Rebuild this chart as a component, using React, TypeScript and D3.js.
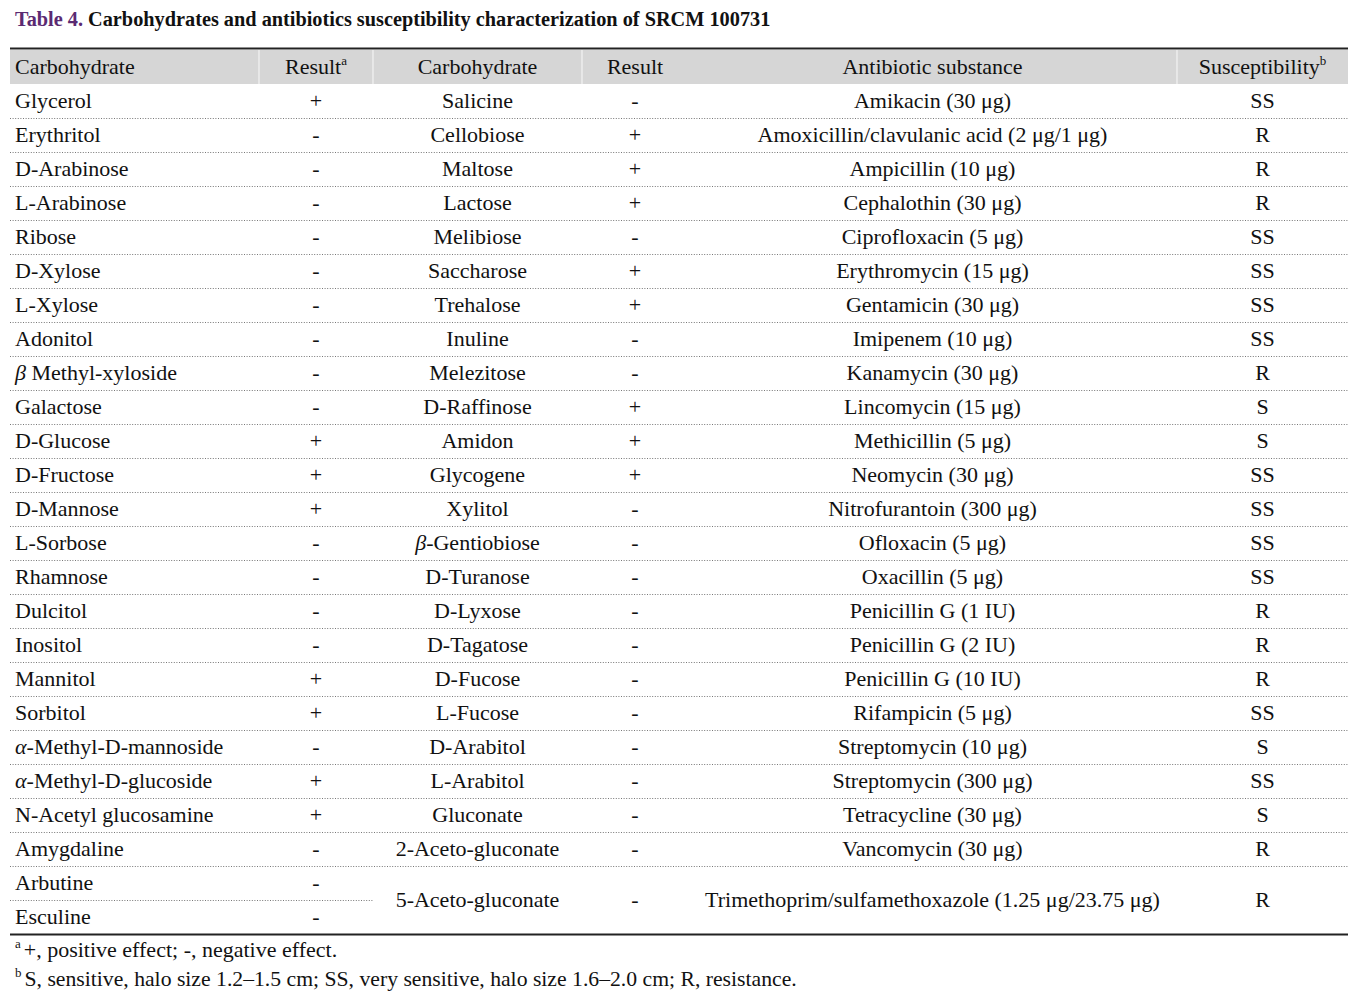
import React from "react";
import * as d3 from "d3";

const titleLabel = "Table 4.";
const titleText = " Carbohydrates and antibiotics susceptibility characterization of SRCM 100731";
const headers = ["Carbohydrate", "Result", "Carbohydrate", "Result", "Antibiotic substance", "Susceptibility"];
const headerSup = ["", "a", "", "", "", "b"];

const carbA = [
  "Glycerol", "Erythritol", "D-Arabinose", "L-Arabinose", "Ribose", "D-Xylose", "L-Xylose", "Adonitol",
  "β Methyl-xyloside", "Galactose", "D-Glucose", "D-Fructose", "D-Mannose", "L-Sorbose", "Rhamnose",
  "Dulcitol", "Inositol", "Mannitol", "Sorbitol", "α-Methyl-D-mannoside", "α-Methyl-D-glucoside",
  "N-Acetyl glucosamine", "Amygdaline", "Arbutine", "Esculine",
];
const resA = ["+", "-", "-", "-", "-", "-", "-", "-", "-", "-", "+", "+", "+", "-", "-", "-", "-", "+", "+", "-", "+", "+", "-", "-", "-"];
const carbB = [
  "Salicine", "Cellobiose", "Maltose", "Lactose", "Melibiose", "Saccharose", "Trehalose", "Inuline",
  "Melezitose", "D-Raffinose", "Amidon", "Glycogene", "Xylitol", "β-Gentiobiose", "D-Turanose",
  "D-Lyxose", "D-Tagatose", "D-Fucose", "L-Fucose", "D-Arabitol", "L-Arabitol", "Gluconate",
  "2-Aceto-gluconate", "5-Aceto-gluconate",
];
const resB = ["-", "+", "+", "+", "-", "+", "+", "-", "-", "+", "+", "+", "-", "-", "-", "-", "-", "-", "-", "-", "-", "-", "-", "-"];
const antibiotics = [
  "Amikacin (30 μg)", "Amoxicillin/clavulanic acid (2 μg/1 μg)", "Ampicillin (10 μg)", "Cephalothin (30 μg)",
  "Ciprofloxacin (5 μg)", "Erythromycin (15 μg)", "Gentamicin (30 μg)", "Imipenem (10 μg)",
  "Kanamycin (30 μg)", "Lincomycin (15 μg)", "Methicillin (5 μg)", "Neomycin (30 μg)",
  "Nitrofurantoin (300 μg)", "Ofloxacin (5 μg)", "Oxacillin (5 μg)", "Penicillin G (1 IU)",
  "Penicillin G (2 IU)", "Penicillin G (10 IU)", "Rifampicin (5 μg)", "Streptomycin (10 μg)",
  "Streptomycin (300 μg)", "Tetracycline (30 μg)", "Vancomycin (30 μg)",
  "Trimethoprim/sulfamethoxazole (1.25 μg/23.75 μg)",
];
const suscept = ["SS", "R", "R", "R", "SS", "SS", "SS", "SS", "R", "S", "S", "SS", "SS", "SS", "SS", "R", "R", "R", "SS", "S", "SS", "S", "R", "R"];
const footA = "+, positive effect; -, negative effect.";
const footB = "S, sensitive, halo size 1.2–1.5 cm; SS, very sensitive, halo size 1.6–2.0 cm; R, resistance.";

const FONT = "'Liberation Serif', 'Times New Roman', serif";
const FS = 22;

function Txt({ x, y, s, anchor }: { x: number; y: number; s: string; anchor: string }) {
  const m = s.match(/^([αβ])(.*)$/);
  return (
    <text x={x} y={y} textAnchor={anchor} fontFamily={FONT} fontSize={FS} fill="#111">
      {m ? (
        <>
          <tspan fontStyle="italic">{m[1]}</tspan>
          <tspan>{m[2]}</tspan>
        </>
      ) : s}
    </text>
  );
}

export default function App() {
  const W = 1368, H = 998;
  const left = 10, right = 1348;
  const bounds = [left, 259, 373, 582, 688, 1177, right];
  const headTop = 50, headBot = 84;
  const rowH = 34;
  const nRows = carbA.length;
  const y = d3.scaleLinear().domain([0, nRows]).range([headBot, headBot + nRows * rowH]);
  const bottom = y(nRows);
  const cx = (i: number) => (bounds[i] + bounds[i + 1]) / 2;
  const base = 7;

  return (
    <div style={{ position: "absolute", left: 0, top: 0 }}>
      <svg width={W} height={H} style={{ display: "block", background: "#fff" }}>
        <text x={15} y={26} fontFamily={FONT} fontSize={20.3} fontWeight="bold" fill="#111">
          <tspan fill="#5b2a72">{titleLabel}</tspan>
          <tspan>{titleText}</tspan>
        </text>
        {/* header band */}
        <rect x={left} y={headTop} width={right - left} height={headBot - headTop} fill="#d6d6d6" />
        {[1, 2, 3, 5].map((i) => (
          <line key={i} x1={bounds[i]} x2={bounds[i]} y1={headTop} y2={headBot} stroke="#f4f4f4" strokeWidth={1.2} />
        ))}
        <line x1={left} x2={right} y1={48.5} y2={48.5} stroke="#222" strokeWidth={2.2} />
        {headers.map((h, i) => (
          <text key={i} x={i === 0 ? 15 : cx(i)} y={(headTop + headBot) / 2 + base} textAnchor={i === 0 ? "start" : "middle"}
            fontFamily={FONT} fontSize={FS} fill="#111">
            {h}
            {headerSup[i] && <tspan fontSize={13} dy={-9}>{headerSup[i]}</tspan>}
          </text>
        ))}
        {/* dotted row lines */}
        {d3.range(1, nRows).map((k) => (
          <line key={k} x1={left} x2={k === nRows - 1 ? bounds[2] : right} y1={y(k) + 0.5} y2={y(k) + 0.5}
            stroke="#777" strokeWidth={1} strokeDasharray="1 1.6" />
        ))}
        {carbA.map((c, i) => (
          <Txt key={"a" + i} x={15} y={(y(i) + y(i + 1)) / 2 + base} s={c} anchor="start" />
        ))}
        {resA.map((r, i) => (
          <Txt key={"ra" + i} x={cx(1)} y={(y(i) + y(i + 1)) / 2 + base} s={r} anchor="middle" />
        ))}
        {carbB.map((c, i) => {
          const yc = i === carbB.length - 1 ? (y(i) + y(nRows)) / 2 : (y(i) + y(i + 1)) / 2;
          return (
            <g key={"b" + i}>
              <Txt x={cx(2)} y={yc + base} s={c} anchor="middle" />
              <Txt x={cx(3)} y={yc + base} s={resB[i]} anchor="middle" />
              <Txt x={cx(4)} y={yc + base} s={antibiotics[i]} anchor="middle" />
              <Txt x={cx(5)} y={yc + base} s={suscept[i]} anchor="middle" />
            </g>
          );
        })}
        <line x1={left} x2={right} y1={bottom + 0.5} y2={bottom + 0.5} stroke="#222" strokeWidth={2.2} />
        <text x={15} y={957} fontFamily={FONT} fontSize={FS} fill="#111">
          <tspan fontSize={13} dy={-9}>a</tspan>
          <tspan dy={9} dx={3}>{footA}</tspan>
        </text>
        <text x={15} y={986} fontFamily={FONT} fontSize={21.7} fill="#111">
          <tspan fontSize={13} dy={-9}>b</tspan>
          <tspan dy={9} dx={3}>{footB}</tspan>
        </text>
      </svg>
    </div>
  );
}
